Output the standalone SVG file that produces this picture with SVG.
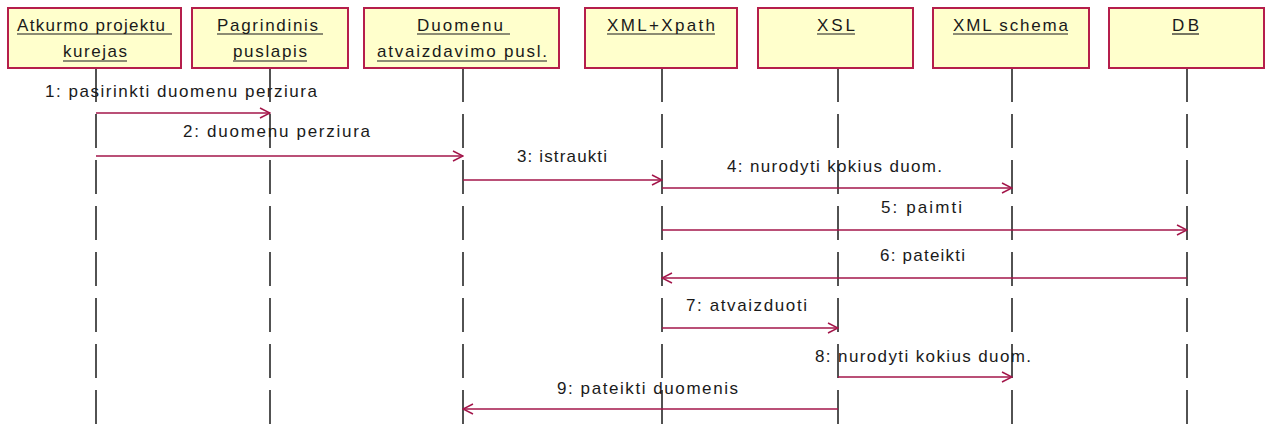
<svg xmlns="http://www.w3.org/2000/svg" width="1267" height="424" viewBox="0 0 1267 424">
  <style>
    .box { fill: #FFFFCC; stroke: #B51E4B; stroke-width: 2; }
    .obj { font-family: "Liberation Sans", Arial, sans-serif; font-size: 17px; fill: #1A1A1A; }
    .ul { stroke: #1A1A1A; stroke-width: 1.2; }
    .life { stroke: #1A1A1A; stroke-width: 1.5; stroke-dasharray: 34 12; fill: none; }
    .msg { stroke: #A3164A; stroke-width: 1.5; fill: none; }
    .lbl { font-family: "Liberation Sans", Arial, sans-serif; font-size: 17px; fill: #1A1A1A; }
  </style>
  <defs>
    <marker id="open" viewBox="0 0 12 12" refX="11" refY="6" markerWidth="12" markerHeight="12" markerUnits="userSpaceOnUse" orient="auto">
      <path d="M1,1 L11,6 L1,11" fill="none" stroke="#A3164A" stroke-width="1.5"/>
    </marker>
  </defs>
  <rect width="1267" height="424" fill="#FFFFFF"/>

  <!-- lifelines -->
  <g id="lifelines">
    <line class="life" x1="96" y1="68" x2="96" y2="424"/>
    <line class="life" x1="270" y1="68" x2="270" y2="424"/>
    <line class="life" x1="463" y1="68" x2="463" y2="424"/>
    <line class="life" x1="662" y1="68" x2="662" y2="424"/>
    <line class="life" x1="838" y1="68" x2="838" y2="424"/>
    <line class="life" x1="1012" y1="68" x2="1012" y2="424"/>
    <line class="life" x1="1187" y1="68" x2="1187" y2="424"/>
  </g>

  <!-- objects -->
  <g id="atkurmo">
    <rect class="box" x="8" y="8" width="173" height="60"/>
    <text class="obj" x="17" y="31" textLength="148" lengthAdjust="spacing">Atkurmo projektu</text>
    <line class="ul" x1="17" y1="34" x2="172" y2="34"/>
    <text class="obj" x="63" y="57" textLength="64" lengthAdjust="spacing">kurejas</text>
    <line class="ul" x1="63" y1="61" x2="127" y2="61"/>
  </g>
  <g id="pagrindinis">
    <rect class="box" x="192" y="8" width="156" height="60"/>
    <text class="obj" x="217" y="31" textLength="101" lengthAdjust="spacing">Pagrindinis</text>
    <line class="ul" x1="217" y1="34" x2="323" y2="34"/>
    <text class="obj" x="233" y="57" textLength="74" lengthAdjust="spacing">puslapis</text>
    <line class="ul" x1="233" y1="61" x2="307" y2="61"/>
  </g>
  <g id="duomenu">
    <rect class="box" x="364" y="8" width="195" height="60"/>
    <text class="obj" x="417" y="31" textLength="86" lengthAdjust="spacing">Duomenu</text>
    <line class="ul" x1="417" y1="34" x2="510" y2="34"/>
    <text class="obj" x="377" y="57" textLength="170" lengthAdjust="spacing">atvaizdavimo pusl.</text>
    <line class="ul" x1="377" y1="61" x2="547" y2="61"/>
  </g>
  <g id="xmlxpath">
    <rect class="box" x="585" y="8" width="152" height="60"/>
    <text class="obj" x="607" y="31" textLength="108" lengthAdjust="spacing">XML+Xpath</text>
    <line class="ul" x1="607" y1="34" x2="715" y2="34"/>
  </g>
  <g id="xsl">
    <rect class="box" x="758" y="8" width="155" height="60"/>
    <text class="obj" x="817" y="31" textLength="38" lengthAdjust="spacing">XSL</text>
    <line class="ul" x1="817" y1="34" x2="855" y2="34"/>
  </g>
  <g id="xmlschema">
    <rect class="box" x="933" y="8" width="156" height="60"/>
    <text class="obj" x="953" y="31" textLength="115" lengthAdjust="spacing">XML schema</text>
    <line class="ul" x1="953" y1="34" x2="1068" y2="34"/>
  </g>
  <g id="db">
    <rect class="box" x="1109" y="8" width="155" height="60"/>
    <text class="obj" x="1172" y="31" textLength="27" lengthAdjust="spacing">DB</text>
    <line class="ul" x1="1172" y1="34" x2="1199" y2="34"/>
  </g>

  <!-- messages -->
  <g id="connectors">
    <line class="msg" x1="96" y1="113" x2="270" y2="113" marker-end="url(#open)"/>
    <line class="msg" x1="96" y1="156" x2="463" y2="156" marker-end="url(#open)"/>
    <line class="msg" x1="463" y1="180" x2="662" y2="180" marker-end="url(#open)"/>
    <line class="msg" x1="662" y1="188" x2="1012" y2="188" marker-end="url(#open)"/>
    <line class="msg" x1="662" y1="230" x2="1187" y2="230" marker-end="url(#open)"/>
    <line class="msg" x1="1187" y1="278" x2="662" y2="278" marker-end="url(#open)"/>
    <line class="msg" x1="662" y1="328" x2="838" y2="328" marker-end="url(#open)"/>
    <line class="msg" x1="838" y1="377" x2="1012" y2="377" marker-end="url(#open)"/>
    <line class="msg" x1="838" y1="409" x2="463" y2="409" marker-end="url(#open)"/>
  </g>

  <!-- message labels -->
  <g id="labels">
    <text class="lbl" x="45" y="97" textLength="272" lengthAdjust="spacing">1: pasirinkti duomenu perziura</text>
    <text class="lbl" x="183" y="137" textLength="187" lengthAdjust="spacing">2: duomenu perziura</text>
    <text class="lbl" x="517" y="162" textLength="90" lengthAdjust="spacing">3: istraukti</text>
    <text class="lbl" x="727" y="172" textLength="215" lengthAdjust="spacing">4: nurodyti kokius duom.</text>
    <text class="lbl" x="881" y="213" textLength="81" lengthAdjust="spacing">5: paimti</text>
    <text class="lbl" x="880" y="261" textLength="85" lengthAdjust="spacing">6: pateikti</text>
    <text class="lbl" x="686" y="311" textLength="121" lengthAdjust="spacing">7: atvaizduoti</text>
    <text class="lbl" x="815" y="362" textLength="216" lengthAdjust="spacing">8: nurodyti kokius duom.</text>
    <text class="lbl" x="557" y="394" textLength="181" lengthAdjust="spacing">9: pateikti duomenis</text>
  </g>
</svg>
